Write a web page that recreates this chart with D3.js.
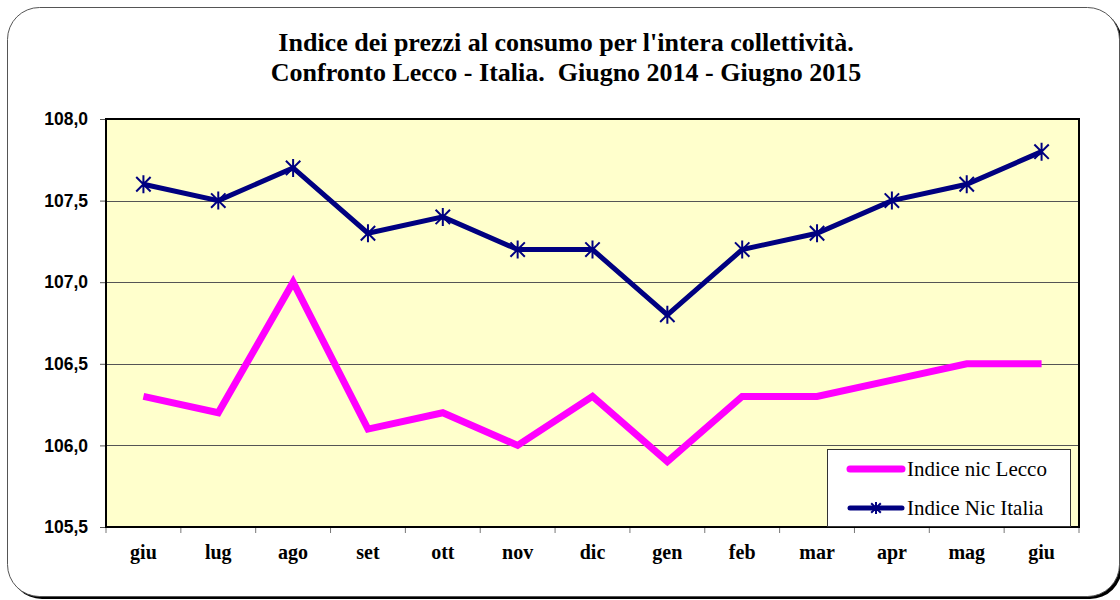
<!DOCTYPE html>
<html lang="it">
<head>
<meta charset="UTF-8">
<title>Indice dei prezzi al consumo</title>
<style>
  body { margin: 0; background: #fff; }
  svg { display: block; }
</style>
<script src="https://cdn.jsdelivr.net/npm/d3@7"></script>
</head>
<body>
<svg id="chart" width="1120" height="600"></svg>
<script>
// data
const months = ["giu", "lug", "ago", "set", "ott", "nov", "dic", "gen", "feb", "mar", "apr", "mag", "giu"];
const lecco  = [106.3, 106.2, 107.0, 106.1, 106.2, 106.0, 106.3, 105.9, 106.3, 106.3, 106.4, 106.5, 106.5];
const italia = [107.6, 107.5, 107.7, 107.3, 107.4, 107.2, 107.2, 106.8, 107.2, 107.3, 107.5, 107.6, 107.8];
const yTicks = [105.5, 106.0, 106.5, 107.0, 107.5, 108.0];
const titleLines = ["Indice dei prezzi al consumo per l'intera collettività.",
                    "Confronto Lecco - Italia.  Giugno 2014 - Giugno 2015"];
const legendNames = ["Indice nic Lecco", "Indice Nic Italia"];

const svg = d3.select("#chart");
const plot = { left: 106, right: 1079, top: 119, bottom: 527 };

// outer frame with shadow
svg.append("rect")
  .attr("x", 10).attr("y", 10).attr("width", 1112).attr("height", 589)
  .attr("rx", 32).attr("fill", "#000");
svg.append("rect")
  .attr("x", 7.5).attr("y", 7.5).attr("width", 1112).attr("height", 589)
  .attr("rx", 32).attr("fill", "#fff").attr("stroke", "#555").attr("stroke-width", 1);

// title
svg.append("g").selectAll("text")
  .data(titleLines)
  .join("text")
  .attr("x", 566)
  .attr("y", (d, i) => 51 + i * 30)
  .attr("text-anchor", "middle")
  .style("font-family", "'Liberation Serif', 'Times New Roman', serif")
  .style("font-weight", "bold")
  .style("font-size", "26px")
  .style("white-space", "pre")
  .text(d => d);

const x = d3.scaleBand().domain(d3.range(months.length)).range([plot.left, plot.right]);
const y = d3.scaleLinear().domain([105.5, 108]).range([plot.bottom, plot.top]);

// plot background
svg.append("rect")
  .attr("x", plot.left).attr("y", plot.top)
  .attr("width", plot.right - plot.left).attr("height", plot.bottom - plot.top)
  .attr("fill", "#FFFFCC");

// gridlines
svg.append("g").selectAll("line")
  .data(yTicks.slice(1, -1))
  .join("line")
  .attr("x1", plot.left).attr("x2", plot.right)
  .attr("y1", d => Math.round(y(d)) + 0.5).attr("y2", d => Math.round(y(d)) + 0.5)
  .attr("stroke", "#555").attr("stroke-width", 1);

// y axis
const yAxis = svg.append("g")
  .attr("transform", `translate(${plot.left},0)`)
  .call(d3.axisLeft(y).tickValues(yTicks).tickSize(6).tickPadding(12)
    .tickFormat(d => d3.format(".1f")(d).replace(".", ",")));
yAxis.select(".domain").remove();
yAxis.selectAll("line").attr("stroke", "#555");
yAxis.selectAll("text")
  .style("font-family", "'Liberation Sans', Arial, sans-serif")
  .style("font-weight", "bold")
  .style("font-size", "17.5px")
  .attr("fill", "#000");

// x axis
const xAxis = svg.append("g")
  .attr("transform", `translate(0,${plot.bottom})`)
  .call(d3.axisBottom(x).tickSize(0).tickPadding(18).tickFormat(i => months[i]));
xAxis.select(".domain").remove();
xAxis.selectAll("text")
  .style("font-family", "'Liberation Serif', 'Times New Roman', serif")
  .style("font-weight", "bold")
  .style("font-size", "20px")
  .attr("fill", "#000");
svg.append("g").selectAll("line")
  .data(d3.range(months.length + 1))
  .join("line")
  .attr("x1", i => plot.left + i * x.step()).attr("x2", i => plot.left + i * x.step())
  .attr("y1", plot.bottom).attr("y2", plot.bottom + 6)
  .attr("stroke", "#777");

// plot border
svg.append("rect")
  .attr("x", plot.left).attr("y", plot.top)
  .attr("width", plot.right - plot.left).attr("height", plot.bottom - plot.top)
  .attr("fill", "none").attr("stroke", "#000").attr("stroke-width", 2);

const cx = i => x(i) + x.bandwidth() / 2;
const line = d3.line().x((d, i) => cx(i)).y(d => y(d));

svg.append("path")
  .datum(lecco)
  .attr("d", line)
  .attr("fill", "none").attr("stroke", "#FF00FF")
  .attr("stroke-width", 7).attr("stroke-linejoin", "miter");

svg.append("path")
  .datum(italia)
  .attr("d", line)
  .attr("fill", "none").attr("stroke", "#000080")
  .attr("stroke-width", 5).attr("stroke-linejoin", "miter");

function star(g, px, py, r) {
  const d = r * 0.8;
  g.append("path")
    .attr("d", `M${px - d},${py - d}L${px + d},${py + d}M${px - d},${py + d}L${px + d},${py - d}M${px},${py - r}L${px},${py + r}`)
    .attr("stroke", "#000080").attr("stroke-width", 2).attr("fill", "none");
}
const markers = svg.append("g");
italia.forEach((v, i) => star(markers, cx(i), y(v), 9));

// legend
const lg = svg.append("g");
lg.append("rect")
  .attr("x", 827.5).attr("y", 449.5).attr("width", 243).attr("height", 77)
  .attr("fill", "#fff").attr("stroke", "#333").attr("stroke-width", 1);
const legendColors = ["#FF00FF", "#000080"];
const legendWidths = [7, 5];
legendNames.forEach((name, i) => {
  const ly = 469 + i * 39;
  lg.append("line")
    .attr("x1", 850).attr("x2", 902).attr("y1", ly).attr("y2", ly)
    .attr("stroke", legendColors[i]).attr("stroke-width", legendWidths[i])
    .attr("stroke-linecap", "round");
  if (i === 1) star(lg, 876, ly, 6);
  lg.append("text")
    .attr("x", 907).attr("y", ly + 7)
    .style("font-family", "'Liberation Serif', 'Times New Roman', serif")
    .style("font-size", "21px")
    .text(name);
});
</script>
</body>
</html>
